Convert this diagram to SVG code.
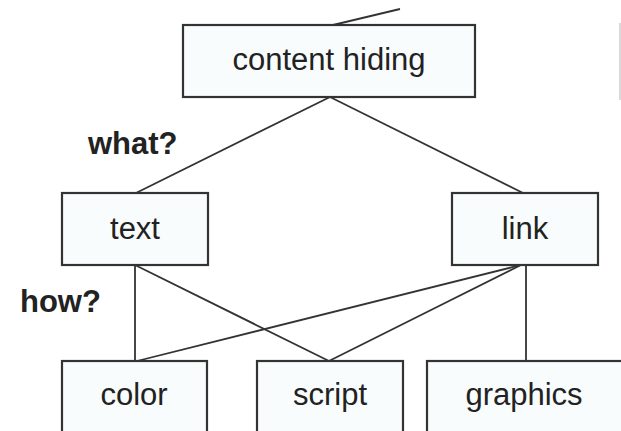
<svg xmlns="http://www.w3.org/2000/svg" width="621" height="431" viewBox="0 0 621 431">
<style>
.box{fill:#f8fcfd;stroke:#333;stroke-width:2.2}
.lbl{font-family:"Liberation Sans",Arial,sans-serif;font-size:31px;fill:#222;text-anchor:middle}
.q{font-family:"Liberation Sans",Arial,sans-serif;font-size:31px;font-weight:bold;fill:#222}
.c{stroke:#333;stroke-width:1.8;fill:none}
</style>
<rect width="621" height="431" fill="#fff"/>
<line x1="620" y1="23" x2="620" y2="100" stroke="#ccc" stroke-width="1.5"/>
<g id="connectors">
<line class="c" x1="333" y1="25" x2="400" y2="9"/>
<line class="c" x1="330" y1="97" x2="136" y2="193"/>
<line class="c" x1="330" y1="97" x2="523" y2="193"/>
<line class="c" x1="135" y1="265" x2="135" y2="361"/>
<line class="c" x1="135" y1="265" x2="329" y2="361"/>
<line class="c" x1="521" y1="265" x2="137" y2="361"/>
<line class="c" x1="521" y1="265" x2="329" y2="361"/>
<line class="c" x1="526" y1="265" x2="526" y2="361"/>
</g>
<g id="content-hiding">
<rect class="box" x="183" y="25" width="292" height="72"/>
<text class="lbl" x="329" y="70">content hiding</text>
</g>
<g id="text">
<rect class="box" x="62" y="193" width="146" height="72"/>
<text class="lbl" x="135" y="239">text</text>
</g>
<g id="link">
<rect class="box" x="452" y="193" width="146" height="72"/>
<text class="lbl" x="525" y="239">link</text>
</g>
<g id="color">
<rect class="box" x="62" y="361" width="145" height="80"/>
<text class="lbl" x="134" y="405">color</text>
</g>
<g id="script">
<rect class="box" x="257" y="361" width="146" height="80"/>
<text class="lbl" x="330" y="405">script</text>
</g>
<g id="graphics">
<rect class="box" x="427" y="361" width="200" height="80"/>
<text class="lbl" x="524" y="405">graphics</text>
</g>
<text class="q" x="88" y="154">what?</text>
<text class="q" x="20" y="312">how?</text>
</svg>
